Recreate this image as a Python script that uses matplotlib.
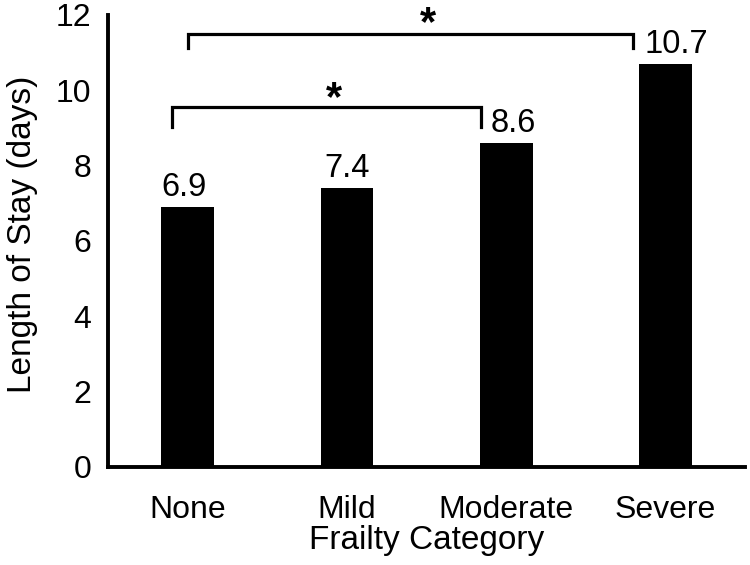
import matplotlib
matplotlib.use("Agg")
import matplotlib.pyplot as plt

categories = ["None", "Mild", "Moderate", "Severe"]
values = [6.9, 7.4, 8.6, 10.7]
value_labels = ["6.9", "7.4", "8.6", "10.7"]
y_ticks = [0, 2, 4, 6, 8, 10, 12]

plt.rcParams['font.family'] = ['Liberation Sans', 'DejaVu Sans']

fig = plt.figure(figsize=(7.5, 5.65), dpi=100)
# axes: left spine x~108 px, bottom y~467 px, top (12) y~15 px
ax = fig.add_axes([0.144, 1 - 467 / 565, 0.8496, (467 - 15) / 565])

x = list(range(len(categories)))
ax.bar(x, values, width=0.33, color='black')

# small horizontal nudges of the value labels (clear of bracket ends)
label_nudge = [-0.025, 0.0, 0.045, 0.065]
for xi, v, lab, dx in zip(x, values, value_labels, label_nudge):
    ax.text(xi + dx, v + 0.3, lab, ha='center', va='baseline', fontsize=23.5)

ax.set_xlim(-0.5, 3.5)
ax.set_ylim(0, 12)
ax.set_yticks(y_ticks)
ax.set_yticklabels([str(t) for t in y_ticks], fontsize=23)
ax.set_xticks(x)
ax.set_xticklabels(categories, fontsize=23)
ax.tick_params(axis='both', length=0)
ax.tick_params(axis='y', pad=12)
ax.tick_params(axis='x', pad=20)

for s in ['top', 'right']:
    ax.spines[s].set_visible(False)
for s in ['left', 'bottom']:
    ax.spines[s].set_linewidth(2.8)
    ax.spines[s].set_capstyle('projecting')

ax.set_ylabel("Length of Stay (days)", fontsize=24)
ax.yaxis.set_label_coords(-0.11, 0.515)
ax.set_xlabel("Frailty Category", fontsize=24, labelpad=0)

# significance brackets
def bracket(x0, x1, y, h):
    ax.plot([x0, x0, x1, x1], [y - h, y, y, y - h], color='black', lw=2.3,
            clip_on=False, solid_joinstyle='miter')

bracket(0.0, 2.797, 11.49, 0.36)
ax.text(1.51, 11.76, "*", ha='center', va='center', fontsize=30,
        fontweight='bold', clip_on=False)
bracket(-0.1, 1.84, 9.55, 0.53)
ax.text(0.92, 9.77, "*", ha='center', va='center', fontsize=30,
        fontweight='bold', clip_on=False)

fig.savefig("out.png", dpi=100)
